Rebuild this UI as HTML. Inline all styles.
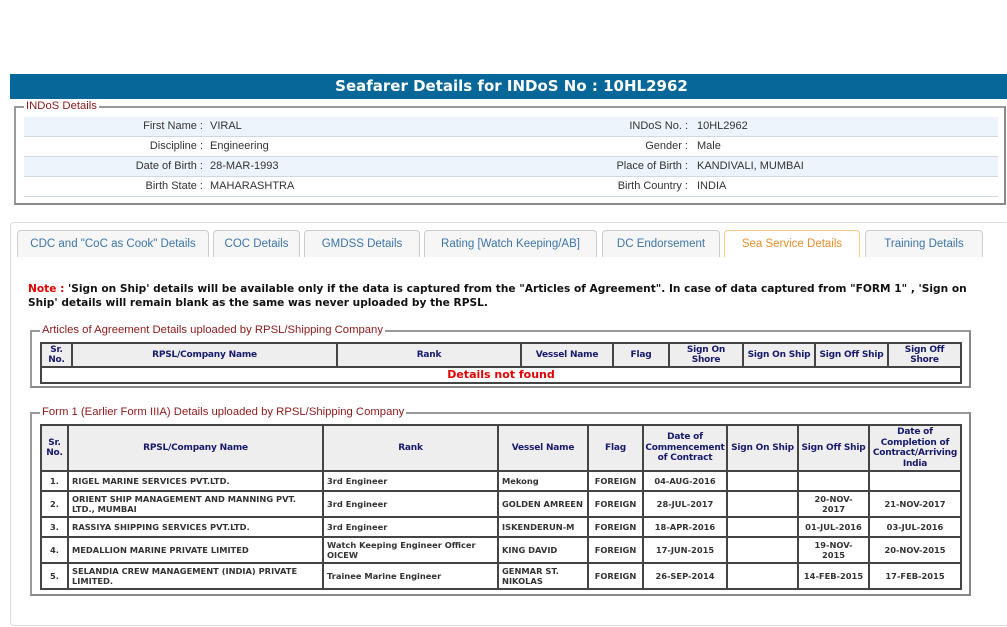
<!DOCTYPE html>
<html><head><meta charset="utf-8">
<style>
*{box-sizing:border-box;margin:0;padding:0}
body{width:1007px;height:627px;background:#fff;position:relative;overflow:hidden;font-family:"Liberation Sans",Arial,sans-serif}
.abs{position:absolute}
.hdr{left:10px;top:74px;width:997px;height:25px;background:#076798;color:#fff;font-family:"DejaVu Sans",sans-serif;font-weight:bold;font-size:15px;text-align:center;line-height:25px;padding-left:6px}
.fs{border:2px solid #888;border-color:#999 #888 #888 #999}
.leg{background:#fff;color:#8b1a1a;font-size:11.3px;padding:0 2px;line-height:12px}
.row{position:absolute;left:24px;width:974px;height:20px;border-bottom:1px solid #cfd8e2;font-size:11px;color:#333;line-height:19px}
.row.a{background:#eef4fb}
.row span{position:absolute}
.l1{right:795px;text-align:right}
.v1{left:186px}
.l2{right:310px;text-align:right}
.v2{left:673px}
.panel{left:10px;top:222px;width:1000px;height:404px;border:1px solid #ddd;border-radius:4px}
.tab{position:absolute;top:230px;height:27px;border:1px solid #ccc;border-bottom:none;border-radius:4px 4px 0 0;background:#f6f6f6;color:#3d75a6;font-size:11.5px;text-align:center;line-height:27px}
.tab.act{border-color:#f3cd85;background:#fff;color:#eb8f2a}
.note{left:28px;top:282px;width:950px;font-family:"DejaVu Sans",sans-serif;font-weight:bold;font-size:10.6px;line-height:14px;color:#111}
table{position:absolute;border-collapse:collapse;font-family:"DejaVu Sans",sans-serif;font-weight:bold;table-layout:fixed}
th{background:#eee;color:#19196a;font-size:9px;border:2px solid #444;line-height:10.5px;text-align:center;padding:0;letter-spacing:-0.2px}
td{font-size:8.3px;color:#333;border:2px solid #444;line-height:10.5px;padding:0 3px;background:#fff}
td.c{text-align:center}
</style></head><body>
<div class="abs hdr">Seafarer Details for INDoS No : 10HL2962</div>

<div class="abs fs" style="left:14px;top:106px;width:992px;height:99px"></div>
<div class="abs leg" style="left:24px;top:100px">INDoS Details</div>
<div class="row a" style="top:117px"><span class="l1">First Name :</span><span class="v1">VIRAL</span><span class="l2">INDoS No. :</span><span class="v2">10HL2962</span></div>
<div class="row" style="top:137px"><span class="l1">Discipline :</span><span class="v1">Engineering</span><span class="l2">Gender :</span><span class="v2">Male</span></div>
<div class="row a" style="top:157px"><span class="l1">Date of Birth :</span><span class="v1">28-MAR-1993</span><span class="l2">Place of Birth :</span><span class="v2">KANDIVALI, MUMBAI</span></div>
<div class="row" style="top:177px"><span class="l1">Birth State :</span><span class="v1">MAHARASHTRA</span><span class="l2">Birth Country :</span><span class="v2">INDIA</span></div>

<div class="abs panel"></div>
<div class="tab" style="left:17px;width:192px">CDC and "CoC as Cook" Details</div>
<div class="tab" style="left:213px;width:87px">COC Details</div>
<div class="tab" style="left:304px;width:116px">GMDSS Details</div>
<div class="tab" style="left:424px;width:173px">Rating [Watch Keeping/AB]</div>
<div class="tab" style="left:602px;width:118px">DC Endorsement</div>
<div class="tab act" style="left:724px;width:136px">Sea Service Details</div>
<div class="tab" style="left:865px;width:118px">Training Details</div>

<div class="abs note"><span style="color:#e00000">Note :</span> 'Sign on Ship' details will be available only if the data is captured from the "Articles of Agreement". In case of data captured from "FORM 1" , 'Sign on Ship' details will remain blank as the same was never uploaded by the RPSL.</div>

<div class="abs fs" style="left:30px;top:330px;width:941px;height:58px"></div>
<div class="abs leg" style="left:40px;top:324px">Articles of Agreement Details uploaded by RPSL/Shipping Company</div>
<table style="left:40px;top:342px;width:920px">
<colgroup><col style="width:31px"><col style="width:265px"><col style="width:184px"><col style="width:92px"><col style="width:56px"><col style="width:74px"><col style="width:72px"><col style="width:73px"><col style="width:73px"></colgroup>
<tr style="height:24px"><th>Sr.<br>No.</th><th>RPSL/Company Name</th><th>Rank</th><th>Vessel Name</th><th>Flag</th><th>Sign On<br>Shore</th><th>Sign On Ship</th><th>Sign Off Ship</th><th>Sign Off<br>Shore</th></tr>
<tr style="height:16px"><td colspan="9" class="c" style="color:#e00000;font-size:11px">Details not found</td></tr>
</table>

<div class="abs fs" style="left:30px;top:412px;width:941px;height:184px"></div>
<div class="abs leg" style="left:40px;top:406px">Form 1 (Earlier Form IIIA) Details uploaded by RPSL/Shipping Company</div>
<table style="left:40px;top:424px;width:920px">
<colgroup><col style="width:27px"><col style="width:255px"><col style="width:175px"><col style="width:90px"><col style="width:55px"><col style="width:84px"><col style="width:71px"><col style="width:71px"><col style="width:92px"></colgroup>
<tr style="height:46px"><th>Sr.<br>No.</th><th>RPSL/Company Name</th><th>Rank</th><th>Vessel Name</th><th>Flag</th><th>Date of<br>Commencement<br>of Contract</th><th>Sign On Ship</th><th>Sign Off Ship</th><th>Date of<br>Completion of<br>Contract/Arriving<br>India</th></tr>
<tr style="height:20px"><td class="c">1.</td><td>RIGEL MARINE SERVICES PVT.LTD.</td><td>3rd Engineer</td><td>Mekong</td><td class="c">FOREIGN</td><td class="c">04-AUG-2016</td><td></td><td></td><td></td></tr>
<tr style="height:26px"><td class="c">2.</td><td>ORIENT SHIP MANAGEMENT AND MANNING PVT. LTD., MUMBAI</td><td>3rd Engineer</td><td style="white-space:nowrap">GOLDEN AMREEN</td><td class="c">FOREIGN</td><td class="c">28-JUL-2017</td><td></td><td class="c">20-NOV-<br>2017</td><td class="c">21-NOV-2017</td></tr>
<tr style="height:20px"><td class="c">3.</td><td>RASSIYA SHIPPING SERVICES PVT.LTD.</td><td>3rd Engineer</td><td>ISKENDERUN-M</td><td class="c">FOREIGN</td><td class="c">18-APR-2016</td><td></td><td class="c">01-JUL-2016</td><td class="c">03-JUL-2016</td></tr>
<tr style="height:26px"><td class="c">4.</td><td>MEDALLION MARINE PRIVATE LIMITED</td><td>Watch Keeping Engineer Officer OICEW</td><td>KING DAVID</td><td class="c">FOREIGN</td><td class="c">17-JUN-2015</td><td></td><td class="c">19-NOV-<br>2015</td><td class="c">20-NOV-2015</td></tr>
<tr style="height:26px"><td class="c">5.</td><td>SELANDIA CREW MANAGEMENT (INDIA) PRIVATE LIMITED.</td><td>Trainee Marine Engineer</td><td>GENMAR ST. NIKOLAS</td><td class="c">FOREIGN</td><td class="c">26-SEP-2014</td><td></td><td class="c">14-FEB-2015</td><td class="c">17-FEB-2015</td></tr>
</table>
</body></html>
